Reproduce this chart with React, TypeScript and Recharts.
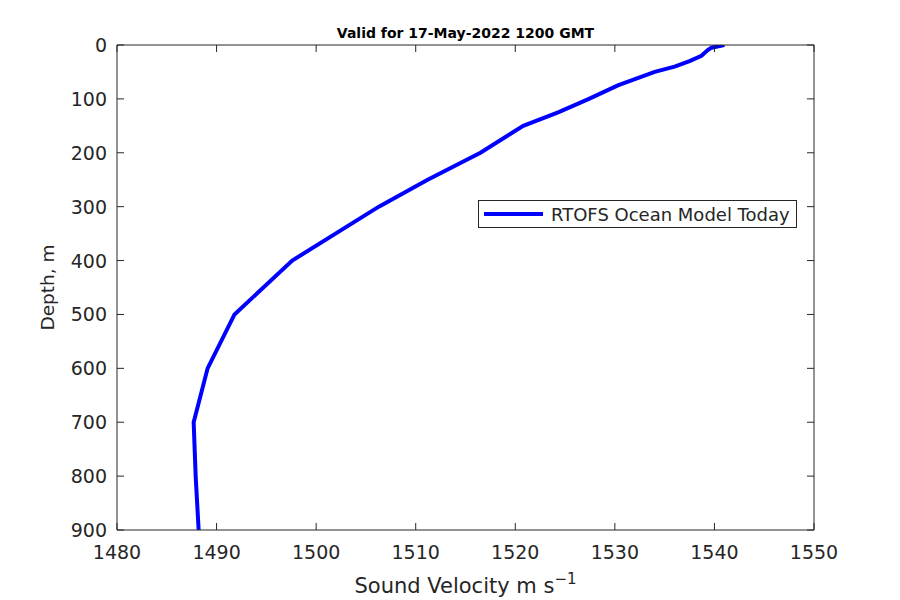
import { LineChart, Line, XAxis, YAxis, Legend, Label } from 'recharts';

// profile: depth (m) vs sound speed (m/s)
const depthM = [0, 5, 10, 20, 30, 40, 50, 75, 100, 125, 150, 200, 250, 300, 400, 500, 600, 700, 800, 900];
const soundVelocity = [
  1541.0, 1539.7, 1539.3, 1538.7, 1537.5, 1536.0, 1534.0, 1530.3, 1527.4, 1524.3,
  1520.8, 1516.5, 1511.2, 1506.3, 1497.6, 1491.8, 1489.1, 1487.7, 1487.9, 1488.2,
];
const velocityTicks = [1480, 1490, 1500, 1510, 1520, 1530, 1540, 1550];
const depthTicks = [0, 100, 200, 300, 400, 500, 600, 700, 800, 900];
const seriesName = 'RTOFS Ocean Model Today';
const title = 'Valid for 17-May-2022 1200 GMT';

const data = depthM.map((d, i) => ({ depth: d, velocity: soundVelocity[i] }));

const FONT = '"DejaVu Sans", sans-serif';
const INK = '#262626';
const TICK_LEN = 7;
const TICK_FONT = 19;
const BOTTOM_GAP = 16; // axis line -> tick label top
const LEFT_GAP = 10;

// MATLAB style: tick marks point into the plot box, labels sit outside.
// eslint-disable-next-line @typescript-eslint/no-explicit-any
const BottomTick = ({ x, y, payload }: any) => (
  <g>
    <line x1={x} x2={x} y1={y - BOTTOM_GAP} y2={y - BOTTOM_GAP - TICK_LEN} stroke={INK} strokeWidth={1} />
    <text x={x} y={y + 13} textAnchor="middle" fill={INK} fontSize={TICK_FONT} fontFamily={FONT}>
      {payload.value}
    </text>
  </g>
);

// eslint-disable-next-line @typescript-eslint/no-explicit-any
const LeftTick = ({ x, y, payload }: any) => (
  <g>
    <line x1={x + LEFT_GAP} x2={x + LEFT_GAP + TICK_LEN} y1={y} y2={y} stroke={INK} strokeWidth={1} />
    <text x={x} y={y + 7} textAnchor="end" fill={INK} fontSize={TICK_FONT} fontFamily={FONT}>
      {payload.value}
    </text>
  </g>
);

// eslint-disable-next-line @typescript-eslint/no-explicit-any
const TopTick = ({ x, y }: any) => (
  <line x1={x} x2={x} y1={y} y2={y + TICK_LEN} stroke={INK} strokeWidth={1} />
);

// eslint-disable-next-line @typescript-eslint/no-explicit-any
const RightTick = ({ x, y }: any) => (
  <line x1={x} x2={x - TICK_LEN} y1={y} y2={y} stroke={INK} strokeWidth={1} />
);

// eslint-disable-next-line @typescript-eslint/no-explicit-any
const LegendBox = (props: any) => {
  const item = props?.payload?.find((p: any) => p.value === seriesName) ?? props?.payload?.[0];
  return (
    <div
      style={{
        display: 'flex',
        alignItems: 'center',
        border: `1px solid ${INK}`,
        background: '#fff',
        height: 26,
        padding: '0 6px 0 5px',
        fontFamily: FONT,
        fontSize: 18,
        color: INK,
        width: 'fit-content',
        whiteSpace: 'nowrap',
      }}
    >
      <span style={{ display: 'inline-block', width: 59, height: 4, background: '#0000ff', marginRight: 8 }} />
      <span>{item?.value ?? seriesName}</span>
    </div>
  );
};

export default function App() {
  return (
    <div style={{ position: 'absolute', left: 0, top: 0, width: 900, height: 600, background: '#fff' }}>
      <div
        style={{
          position: 'absolute',
          left: 117,
          width: 697,
          top: 25,
          textAlign: 'center',
          fontFamily: FONT,
          fontWeight: 'bold',
          fontSize: 14,
          lineHeight: 'normal',
          color: '#000',
        }}
      >
        {title}
      </div>
      <LineChart
        width={900}
        height={600}
        data={data}
        layout="vertical"
        margin={{ top: 44, right: 85, bottom: 0, left: 0 }}
        style={{ fontFamily: FONT }}
      >
        <XAxis
          type="number"
          dataKey="velocity"
          domain={[1480, 1550]}
          ticks={velocityTicks}
          allowDataOverflow
          height={70}
          tickLine={false}
          tickSize={0}
          tickMargin={BOTTOM_GAP}
          stroke={INK}
          tick={BottomTick}
        >
          <Label
            content={({ viewBox }: any) => (
              <text
                x={viewBox.x + viewBox.width / 2}
                y={593}
                textAnchor="middle"
                fill={INK}
                fontSize={21}
                fontFamily={FONT}
              >
                Sound Velocity m s
                <tspan dy={-9} fontSize={15}>−1</tspan>
              </text>
            )}
          />
        </XAxis>
        <XAxis
          xAxisId="top"
          orientation="top"
          type="number"
          dataKey="velocity"
          domain={[1480, 1550]}
          ticks={velocityTicks}
          allowDataOverflow
          height={1}
          tickLine={false}
          tickSize={0}
          tickMargin={0}
          tick={TopTick}
          stroke={INK}
        />
        <YAxis
          type="number"
          dataKey="depth"
          domain={[0, 900]}
          ticks={depthTicks}
          allowDataOverflow
          width={117}
          tickLine={false}
          tickSize={0}
          tickMargin={LEFT_GAP}
          stroke={INK}
          tick={LeftTick}
        >
          <Label
            content={({ viewBox }: any) => {
              const cx = 54;
              const cy = viewBox.y + viewBox.height / 2;
              return (
                <text
                  x={cx}
                  y={cy}
                  textAnchor="middle"
                  transform={`rotate(-90 ${cx} ${cy})`}
                  fill={INK}
                  fontSize={18.5}
                  fontFamily={FONT}
                >
                  Depth, m
                </text>
              );
            }}
          />
        </YAxis>
        <YAxis
          yAxisId="right"
          orientation="right"
          type="number"
          dataKey="depth"
          domain={[0, 900]}
          ticks={depthTicks}
          allowDataOverflow
          width={1}
          tickLine={false}
          tickSize={0}
          tickMargin={0}
          tick={RightTick}
          stroke={INK}
        />
        <Legend
          layout="vertical"
          align="center"
          verticalAlign="middle"
          content={LegendBox}
          wrapperStyle={{ left: 478, top: 200, width: 'auto', height: 'auto' }}
        />
        <Line
          type="linear"
          dataKey="velocity"
          name={seriesName}
          stroke="#0000ff"
          strokeWidth={4}
          dot={false}
          isAnimationActive={false}
        />
        {/* invisible copy so the mirrored box axes (top/right) get a scale */}
        <Line
          xAxisId="top"
          yAxisId="right"
          type="linear"
          dataKey="velocity"
          name="box"
          stroke="none"
          legendType="none"
          dot={false}
          activeDot={false}
          isAnimationActive={false}
        />
      </LineChart>
    </div>
  );
}
